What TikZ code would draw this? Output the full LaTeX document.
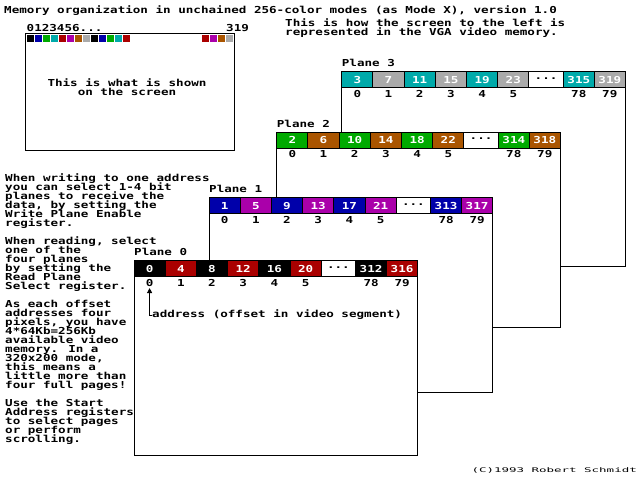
\documentclass[tikz,border=0pt]{standalone}
\usepackage{fontspec}
\usetikzlibrary{arrows.meta}
\newfontfamily\pixfont{DejaVu Sans Mono}[FakeStretch=1.31]
\newfontfamily\tinypix{DejaVu Sans Mono}[FakeStretch=1.95]
\definecolor{egablack}{HTML}{000000}
\definecolor{egablue}{HTML}{0000AA}
\definecolor{egagreen}{HTML}{00AA00}
\definecolor{egacyan}{HTML}{00AAAA}
\definecolor{egared}{HTML}{AA0000}
\definecolor{egamagenta}{HTML}{AA00AA}
\definecolor{egabrown}{HTML}{AA5500}
\definecolor{egagray}{HTML}{AAAAAA}
\newcommand\pixtext{\pixfont\bfseries\fontsize{9.6pt}{9pt}\selectfont\lineskiplimit=-100pt\relax}
\tikzset{
    txt/.style={font=\pixtext, inner sep=0pt},
    cell/.style={txt, draw=black, line width=1pt, minimum height=16pt, text=white},
    planebox/.style={draw=black, line width=1pt, fill=white}
}
\begin{document}
\begin{tikzpicture}[x=1pt,y=-1pt]
    \useasboundingbox[fill=white] (0,0) rectangle (640,480);
    \node[txt, anchor=base west] (title) at (4,13.5)
        {Memory organization in unchained 256-color modes (as Mode X), version 1.0};
    \node[txt, anchor=base west, align=left] (howtext) at (285,35.7)
        {This is how the screen to the left is\\represented in the VGA video memory.};
    % the screen
    \node[txt, anchor=base west] (pixfirst) at (26.5,31.5) {0123456...};
    \node[txt, anchor=base west] (pixlast) at (226,31.5) {319};
    \draw[line width=1pt] (25.5,33.5) rectangle (234,150);
    \foreach \c [count=\i from 0] in {egablack,egablue,egagreen,egacyan,egared,egamagenta,egabrown,egagray,egablack,egablue,egagreen,egacyan,egared}
        \fill[fill=\c] (26.5+8*\i,34.7) rectangle ++(7,7);
    \foreach \c [count=\i from 0] in {egared,egamagenta,egabrown,egagray}
        \fill[fill=\c] (202+8*\i,34.7) rectangle ++(7,7);
    \node[txt, anchor=base, align=center] (shown) at (127,95)
        {This is what is shown\\on the screen};
    % the four planes
    \foreach \p/\x/\y/\ca/\cb in {3/341.7/71.7/egacyan/egagray, 2/276.7/132.3/egagreen/egabrown,
                                 1/209/197.7/egablue/egamagenta, 0/134/260.7/egablack/egared}
        {\draw[planebox] (\x,\y) rectangle ++(283.6,195);
        \node[txt, anchor=base west] (lbl\p) at (\x,\y-5) {Plane \p};
        \foreach \k in {0,...,5}
            {\pgfmathtruncatemacro\v{4*\k+\p}
            \pgfmathsetmacro\cx{\x+31.2*\k+15.6}
            \ifodd\k \def\cc{\cb}\else\def\cc{\ca}\fi
            \node[cell, fill=\cc, minimum width=31.2pt] (c\p-\k) at (\cx,\y+8) {\v};
            \node[txt, anchor=base] (o\p-\k) at (\cx,\y+25.5) {\k};}
        \node[cell, fill=white, text=black, minimum width=34.4pt] (c\p-dots) at (\x+204.4,\y+8)
            {\raisebox{2.5pt}{...}};
        \pgfmathtruncatemacro\va{312+\p}
        \pgfmathtruncatemacro\vb{316+\p}
        \node[cell, fill=\ca, minimum width=31pt] (c\p-78) at (\x+237.1,\y+8) {\va};
        \node[cell, fill=\cb, minimum width=31pt] (c\p-79) at (\x+268.1,\y+8) {\vb};
        \node[txt, anchor=base] (o\p-78) at (\x+237.1,\y+25.5) {78};
        \node[txt, anchor=base] (o\p-79) at (\x+268.1,\y+25.5) {79};}
    \node[txt, anchor=base west] (addr) at (152,317) {address (offset in video segment)};
    \draw[line width=1pt, -{Triangle[length=5pt,width=5pt]}]
        ([yshift=2pt]addr.base west) -| ([yshift=-1.5pt]o0-0.south);
    % explanations
    \node[txt, anchor=base west, align=left] (notes) at (5,442.5)
        {When writing to one address\\
        you can select 1-4 bit\\
        planes to receive the\\
        data, by setting the\\
        Write Plane Enable\\
        register.\\[9pt]
        When reading, select\\
        one of the\\
        four planes\\
        by setting the\\
        Read Plane\\
        Select register.\\[9pt]
        As each offset\\
        addresses four\\
        pixels, you have\\
        4*64Kb=256Kb\\
        available video\\
        memory. In a\\
        320x200 mode,\\
        this means a\\
        little more than\\
        four full pages!\\[9pt]
        Use the Start\\
        Address registers\\
        to select pages\\
        or perform\\
        scrolling.};
    \node[font=\tinypix\fontsize{6.4pt}{7pt}\selectfont, inner sep=0pt, anchor=base east] (credit)
        at (637,472.3) {(C)1993 Robert Schmidt};
\end{tikzpicture}
\end{document}
